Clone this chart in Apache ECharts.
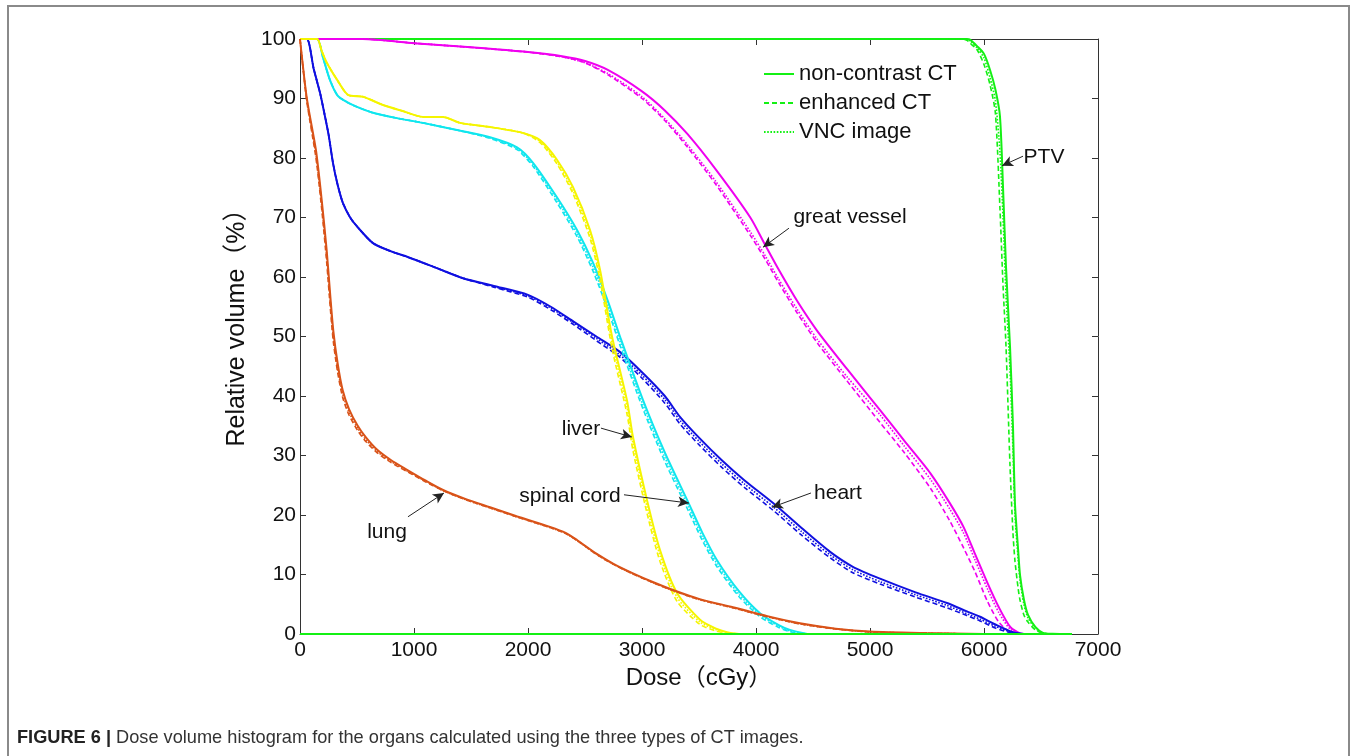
<!DOCTYPE html>
<html>
<head>
<meta charset="utf-8">
<script src="https://cdn.jsdelivr.net/npm/echarts@6/dist/echarts.min.js"></script>
<style>
html,body{margin:0;padding:0;background:#fff;}
#chart{width:1357px;height:756px;}
</style>
</head>
<body>
<div id="chart"></div>
<script>
// ---- data (dose in cGy, relative volume in %) ----
const xTicks = [0, 1000, 2000, 3000, 4000, 5000, 6000, 7000];
const yTicks = [0, 10, 20, 30, 40, 50, 60, 70, 80, 90, 100];
const legendNames = ['non-contrast CT', 'enhanced CT', 'VNC image'];

const lungDose = [0,60,140,190,234,265,292,330,374,430,506,580,675,800,939,1100,1255,1450,1667,1900,2193,2330,2430,2600,2750,2921,3100,3272,3500,3798,4100,4386,4700,5000,5500,6000];
const lungNC  = [100,90,81.3,73,64.5,57,51,45.5,41,37.8,35,33,31,29.2,27.6,25.8,24.2,22.7,21.3,19.8,18,17,15.8,13.5,11.8,10.2,8.7,7.4,5.9,4.5,3,1.8,0.9,0.4,0.15,0];
const lungEN  = [100,89.5,80,71.5,62.5,55,49.2,44,39.8,36.8,34.2,32.3,30.5,28.8,27.3,25.6,24.1,22.6,21.2,19.7,17.9,16.9,15.7,13.4,11.7,10.1,8.6,7.3,5.8,4.4,2.9,1.7,0.85,0.35,0.12,0];
const lungVNC = [100,89.8,80.6,72.2,63.5,56,50,44.7,40.4,37.3,34.6,32.6,30.7,29,27.4,25.7,24.1,22.6,21.2,19.7,17.9,16.9,15.7,13.4,11.7,10.1,8.6,7.3,5.8,4.4,2.9,1.7,0.85,0.35,0.12,0];

const heartDose = [0,60,120,175,202,250,290,330,377,440,500,640,800,939,1200,1430,1700,2000,2200,2400,2600,2800,3000,3200,3333,3500,3700,3900,4150,4400,4650,4850,5088,5400,5675,5850,5965,6100,6255,6350];
const heartNC  = [100,100,95,91,88.6,84,79.1,75.5,72.4,70,68.5,65.7,64.3,63.4,61.5,59.8,58.5,57,55,52.5,50,47.5,44,40,36.5,33,29.2,25.8,22,17.8,13.8,11.3,9.3,7,5.2,3.8,2.9,1.6,0.3,0];
const heartEN  = [100,100,95,91,88.6,84,79.1,75.5,72.4,70,68.5,65.7,64.3,63.4,61.5,59.8,58.3,56.6,54.5,52,49.3,46.6,43,38.8,35.3,31.8,28,24.6,20.8,16.6,12.8,10.3,8.4,6.2,4.4,3.1,2.2,1,0.1,0];
const heartVNC = [100,100,95,91,88.6,84,79.1,75.5,72.4,70,68.5,65.7,64.3,63.4,61.5,59.8,58.4,56.8,54.8,52.3,49.7,47,43.5,39.4,35.9,32.4,28.6,25.2,21.4,17.2,13.3,10.8,8.8,6.6,4.8,3.4,2.5,1.3,0.2,0];

const liverDose = [0,149,190,235,330,421,553,728,900,1079,1255,1404,1667,1956,2105,2254,2395,2544,2632,2737,2868,2921,3044,3158,3307,3509,3650,3746,3850];
const liverNC  = [100,100,98,96,93,90.6,90.3,88.9,87.9,86.9,86.9,85.9,85.2,84.2,83,79.7,75.1,67.9,61.2,50,39.3,33.1,22.5,14.1,6.9,2.4,0.9,0.3,0];
const liverEN  = [100,100,98,96,93,90.6,90.3,88.9,87.9,86.9,86.9,85.9,85.2,84.2,82.6,79,74,66.5,59.5,48,37,30.8,20.3,12.2,5.5,1.6,0.5,0.1,0];
const liverVNC = [100,100,98,96,93,90.6,90.3,88.9,87.9,86.9,86.9,85.9,85.2,84.2,82.8,79.3,74.5,67.2,60.3,49,38.2,32,21.4,13.2,6.2,2,0.7,0.2,0];

const cordDose = [0,149,200,263,330,412,500,640,850,1079,1377,1667,1904,2044,2254,2430,2570,2700,2807,3009,3200,3404,3530,3658,3850,4035,4200,4298,4450];
const cordNC  = [100,100,97,93.1,90.5,89.4,88.6,87.6,86.7,85.9,84.7,83.5,81.8,79.2,73.4,67.9,62.4,56,50,39.3,30.5,22.2,17,12.4,7.2,3.5,1.5,0.7,0];
const cordEN  = [100,100,97,93.1,90.5,89.4,88.6,87.6,86.7,85.9,84.7,83.3,81.4,78.6,72.5,66.8,61,54.5,48.5,37.8,29,20.8,15.7,11.3,6.3,2.9,1.1,0.4,0];
const cordVNC = [100,100,97,93.1,90.5,89.4,88.6,87.6,86.7,85.9,84.7,83.4,81.6,78.9,73,67.3,61.7,55.2,49.2,38.5,29.7,21.5,16.3,11.8,6.7,3.2,1.3,0.5,0];

const vesselDose = [0,550,1000,1500,2000,2300,2500,2700,3000,3200,3400,3650,3950,4080,4200,4360,4535,4800,5090,5300,5530,5700,5820,5920,6030,6130,6230,6320,6400];
const vesselNC  = [100,100,99.3,98.6,97.8,97.1,96.3,94.8,91.2,88,84,78,70,65.4,61.2,56,51,44.5,37.6,32.5,27,22,18,13.5,8.6,4.5,1.2,0.1,0];
const vesselEN  = [100,100,99.3,98.6,97.8,97,96,94,90,86.3,81.8,75.5,67,63,59,54,49,42.5,35.5,30.5,24.5,19,14.5,10.5,5.5,2,0.3,0,0];
const vesselVNC = [100,100,99.3,98.6,97.8,97,96,94.2,90.3,86.6,82.2,76,67.6,63.6,59.6,54.6,49.6,43.2,36.8,31.6,26,21,17,12.5,7.6,3.6,0.8,0,0];

const ptvDose = [0,5750,5800,5850,5877,5939,6000,6053,6100,6140,6167,6193,6228,6254,6272,6300,6316,6350,6386,6450,6518,6600,6770];
const ptvNC  = [100,100,100,100,99.9,98.8,97.5,94.8,91.5,87,75,61.7,48.4,35,21.8,14,9.9,5.8,3.2,1.2,0.2,0.05,0];
const ptvEN  = [100,100,100,99.8,99.3,98.2,95.7,92.3,87.5,71.5,58.5,48.4,28.4,17,12.2,7.6,5.7,3.2,2,0.7,0.1,0.02,0];
const ptvVNC = [100,100,100,99.9,99.7,98.5,96.8,93.5,89.6,81,70,57,44.5,31,20,12.5,9,5,2.7,1,0.15,0.03,0];

const baseDose = [0, 6770];
const baseVol = [0, 0];

// annotations: [label, text anchor, arrow start, arrow tip] in data units
const annoLabels = ['lung', 'liver', 'spinal cord', 'heart', 'great vessel', 'PTV'];
const annoText  = [[763,17.1],[2465,34.5],[2368,23.2],[4719,23.7],[4825,70.1],[6526,80.2]];
const annoStart = [[947,19.7],[2640,34.6],[2842,23.4],[4482,23.7],[4289,68.2],[6342,80.3]];
const annoTip   = [[1263,23.7],[2912,33.1],[3412,22.0],[4140,21.3],[4061,65.0],[6158,78.7]];

// ---- build ----
const FONT = "'Liberation Sans', Arial, 'Noto Sans CJK SC', sans-serif";
const zip = (xs, ys) => xs.map((x, i) => [x, ys[i]]);
const styles = [
  { type: 'solid', width: 2 },
  { type: [5, 3], width: 1.6 },
  { type: [1.6, 1.6], width: 1.6 }
];
function lineSeries(name, color, dose, vals, k) {
  return {
    name: name,
    type: 'line',
    data: zip(dose, vals),
    symbol: 'none',
    smooth: 0.25,
    clip: false,
    silent: true,
    lineStyle: { color: color, width: styles[k].width, type: styles[k].type },
    itemStyle: { color: color }
  };
}
function organSeries(name, color, dose, arrs) {
  return arrs.map((vals, k) => lineSeries(name + ' ' + legendNames[k], color, dose, vals, k));
}

const GREEN = '#14f014';
const series = [];
// PTV series carry the legend names
[ptvNC, ptvEN, ptvVNC].forEach((vals, k) => series.push(lineSeries(legendNames[k], GREEN, ptvDose, vals, k)));
series.push(...organSeries('great vessel', '#f000f0', vesselDose, [vesselNC, vesselEN, vesselVNC]));
series.push(...organSeries('heart', '#1010e0', heartDose, [heartNC, heartEN, heartVNC]));
series.push(...organSeries('spinal cord', '#10e6ee', cordDose, [cordNC, cordEN, cordVNC]));
series.push(...organSeries('liver', '#f5f500', liverDose, [liverNC, liverEN, liverVNC]));
series.push(...organSeries('lung', '#d95319', lungDose, [lungNC, lungEN, lungVNC]));
series.push({
  name: 'baseline', type: 'line', data: zip(baseDose, baseVol), symbol: 'none', clip: false, silent: true,
  lineStyle: { color: GREEN, width: 2 }, itemStyle: { color: GREEN }
});
// annotations
series.push({
  name: 'annotations', type: 'line', data: [], silent: true,
  markLine: {
    silent: true, animation: false,
    symbol: ['none', 'arrow'], symbolSize: [8, 11],
    lineStyle: { color: '#222', width: 1, type: 'solid' },
    label: { show: false },
    data: annoLabels.map((n, i) => [{ coord: annoStart[i] }, { coord: annoTip[i] }])
  },
  markPoint: {
    silent: true, animation: false,
    symbol: 'circle', symbolSize: 1,
    itemStyle: { color: 'rgba(0,0,0,0)' },
    label: { show: true, position: 'inside', formatter: '{b}', color: '#111', fontSize: 21, fontFamily: FONT },
    data: annoLabels.map((n, i) => ({ name: n, coord: annoText[i] }))
  }
});

const axisLine = { show: true, onZero: false, lineStyle: { color: '#333', width: 1 } };
const tickIn = { show: true, inside: true, length: 6, lineStyle: { color: '#333' } };
const labelStyle = { color: '#111', fontSize: 21, fontFamily: FONT, formatter: (v) => String(v) };
const nameStyle = { color: '#111', fontSize: 24, fontFamily: FONT };

const chart = echarts.init(document.getElementById('chart'), null, { renderer: 'canvas' });
chart.setOption({
  animation: false,
  backgroundColor: '#fff',
  textStyle: { fontFamily: FONT },
  grid: { left: 300, right: 259, top: 39, bottom: 122, containLabel: false },
  legend: {
    data: legendNames,
    orient: 'vertical',
    left: 758, top: 58,
    itemWidth: 30, itemHeight: 14, itemGap: 7,
    itemStyle: { color: 'rgba(0,0,0,0)', borderWidth: 0, opacity: 0 },
    textStyle: { color: '#111', fontSize: 22, fontFamily: FONT },
    selectedMode: false
  },
  xAxis: [
    { type: 'value', position: 'bottom', min: xTicks[0], max: xTicks[xTicks.length - 1], interval: 1000,
      axisLine, axisTick: tickIn, splitLine: { show: false },
      axisLabel: Object.assign({ margin: 6 }, labelStyle),
      name: 'Dose（cGy）', nameLocation: 'middle', nameGap: 22, nameTextStyle: nameStyle },
    { type: 'value', position: 'top', min: xTicks[0], max: xTicks[xTicks.length - 1], interval: 1000,
      axisLine, axisTick: tickIn, splitLine: { show: false }, axisLabel: { show: false } }
  ],
  yAxis: [
    { type: 'value', position: 'left', min: yTicks[0], max: yTicks[yTicks.length - 1], interval: 10,
      axisLine, axisTick: tickIn, splitLine: { show: false },
      axisLabel: Object.assign({ margin: 4 }, labelStyle),
      name: 'Relative volume（%）', nameLocation: 'middle', nameGap: 38, nameRotate: 90,
      nameTextStyle: Object.assign({ padding: [0, 0, 0, 30] }, nameStyle, { fontSize: 25 }) },
    { type: 'value', position: 'right', min: yTicks[0], max: yTicks[yTicks.length - 1], interval: 10,
      axisLine, axisTick: tickIn, splitLine: { show: false }, axisLabel: { show: false } }
  ],
  series: series,
  graphic: [
    { type: 'rect', silent: true, z: -10,
      shape: { x: 8, y: 6, width: 1341, height: 820 },
      style: { fill: 'none', stroke: '#8a8a8a', lineWidth: 2 } },
    { type: 'text', left: 17, top: 729, silent: true,
      style: {
        text: '{b|FIGURE 6 |} Dose volume histogram for the organs calculated using the three types of CT images.',
        fill: '#333', fontSize: 18.2, fontFamily: FONT,
        rich: { b: { fontWeight: 'bold', fontSize: 18.2, fill: '#222', fontFamily: FONT } }
      } }
  ]
});
</script>
</body>
</html>
